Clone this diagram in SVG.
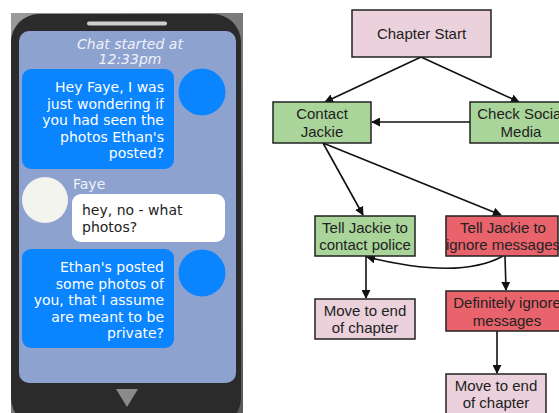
<svg xmlns="http://www.w3.org/2000/svg" width="559" height="413" viewBox="0 0 559 413">
<defs>
<marker id="ah" viewBox="0 0 10 10" refX="9" refY="5" markerWidth="9" markerHeight="9" markerUnits="userSpaceOnUse" orient="auto">
<path d="M0,0 L10,5 L0,10 z" fill="#111"/>
</marker>
<linearGradient id="bg" x1="0" y1="0" x2="1" y2="1">
<stop offset="0" stop-color="#9a9a9a"/><stop offset="1" stop-color="#5a5a5a"/>
</linearGradient>
</defs>
<style>
.chat{font-family:"DejaVu Sans",sans-serif;font-size:14px}
.w{fill:#ffffff}
.fc{font-family:"Liberation Sans",Arial,sans-serif;font-size:15px;fill:#222;text-anchor:middle}
.box{stroke:#222;stroke-width:1.5}
.pink{fill:#ead1dc}
.green{fill:#a9d59a}
.red{fill:#e8636b}
.edge{fill:none;stroke:#111;stroke-width:1.6;marker-end:url(#ah)}
.blue{fill:#0a84ff}
</style>
<rect width="559" height="413" fill="#ffffff"/>
<g id="phone">
<rect x="11" y="13" width="232" height="400" fill="url(#bg)"/>
<rect x="11" y="14" width="230" height="412" rx="28" fill="#2b2b2b"/>
<rect x="19" y="31" width="217" height="352" rx="10" fill="#8ea2d0"/>
<rect x="87" y="21.5" width="80" height="4" rx="2" fill="#cfcfcf"/>
<polygon points="116,389 138,389 127,407" fill="#8a8a8a"/>
<text class="chat" x="130" y="49" text-anchor="middle" font-size="12" font-style="italic" fill="#eef2fa">Chat started at</text>
<text class="chat" x="130" y="64" text-anchor="middle" font-size="12" font-style="italic" fill="#eef2fa">12:33pm</text>
</g>
<g id="msg1">
<rect x="22" y="69" width="152" height="100" rx="9" class="blue"/>
<circle cx="202" cy="92" r="23.5" class="blue"/>
<text class="chat w" text-anchor="end"><tspan x="164" y="92">Hey Faye, I was</tspan><tspan x="164" y="109">just wondering if</tspan><tspan x="164" y="125">you had seen the</tspan><tspan x="164" y="142">photos Ethan's</tspan><tspan x="164" y="158">posted?</tspan></text>
</g>
<g id="msg2">
<circle cx="45" cy="200" r="23" fill="#f4f4ef"/>
<text class="chat" x="73" y="189" font-size="13" fill="#eef2fa">Faye</text>
<rect x="72" y="194" width="153" height="48" rx="9" fill="#ffffff"/>
<text class="chat" fill="#222"><tspan x="82" y="215">hey, no - what</tspan><tspan x="82" y="232">photos?</tspan></text>
</g>
<g id="msg3">
<rect x="22" y="249" width="152" height="99" rx="9" class="blue"/>
<circle cx="202" cy="273" r="23.5" class="blue"/>
<text class="chat w" text-anchor="end"><tspan x="164" y="272">Ethan's posted</tspan><tspan x="164" y="289">some photos of</tspan><tspan x="164" y="305">you, that I assume</tspan><tspan x="164" y="322">are meant to be</tspan><tspan x="164" y="338">private?</tspan></text>
</g>
<g id="connectors">
<path class="edge" d="M421,57 L325,102"/>
<path class="edge" d="M421,57 L519,102"/>
<path class="edge" d="M470,122 L372,122"/>
<path class="edge" d="M323,143 L363,215"/>
<path class="edge" d="M323,143 L501,215"/>
<path class="edge" d="M366,256 L366,298"/>
<path class="edge" d="M503,256 Q460,280 367,257"/>
<path class="edge" d="M505,256 L506,290"/>
<path class="edge" d="M497,331 L497,373"/>
</g>
<g id="chapter-start">
<rect x="352" y="10" width="139" height="47" class="box pink"/>
<text class="fc" x="421.5" y="39">Chapter Start</text>
</g>
<g id="contact-jackie">
<rect x="273" y="102" width="98" height="41" class="box green"/>
<text class="fc"><tspan x="322" y="119">Contact</tspan><tspan x="322" y="137">Jackie</tspan></text>
</g>
<g id="check-social">
<rect x="470" y="102" width="102" height="41" class="box green"/>
<text class="fc"><tspan x="521" y="119">Check Social</tspan><tspan x="521" y="137">Media</tspan></text>
</g>
<g id="tell-police">
<rect x="315" y="216" width="100" height="40" class="box green"/>
<text class="fc" font-size="14"><tspan x="365" y="233">Tell Jackie to</tspan><tspan x="365" y="250">contact police</tspan></text>
</g>
<g id="tell-ignore">
<rect x="446" y="216" width="112" height="40" class="box red"/>
<text class="fc" font-size="13"><tspan x="503" y="233">Tell Jackie to</tspan><tspan x="503" y="250">ignore messages</tspan></text>
</g>
<g id="move-end-1">
<rect x="315" y="299" width="100" height="40" class="box pink"/>
<text class="fc"><tspan x="365" y="316">Move to end</tspan><tspan x="365" y="333">of chapter</tspan></text>
</g>
<g id="definitely-ignore">
<rect x="446" y="291" width="120" height="40" class="box red"/>
<text class="fc"><tspan x="507" y="308">Definitely ignore</tspan><tspan x="507" y="326">messages</tspan></text>
</g>
<g id="move-end-2">
<rect x="446" y="374" width="100" height="44" class="box pink"/>
<text class="fc"><tspan x="496" y="391">Move to end</tspan><tspan x="496" y="408">of chapter</tspan></text>
</g>
</svg>
